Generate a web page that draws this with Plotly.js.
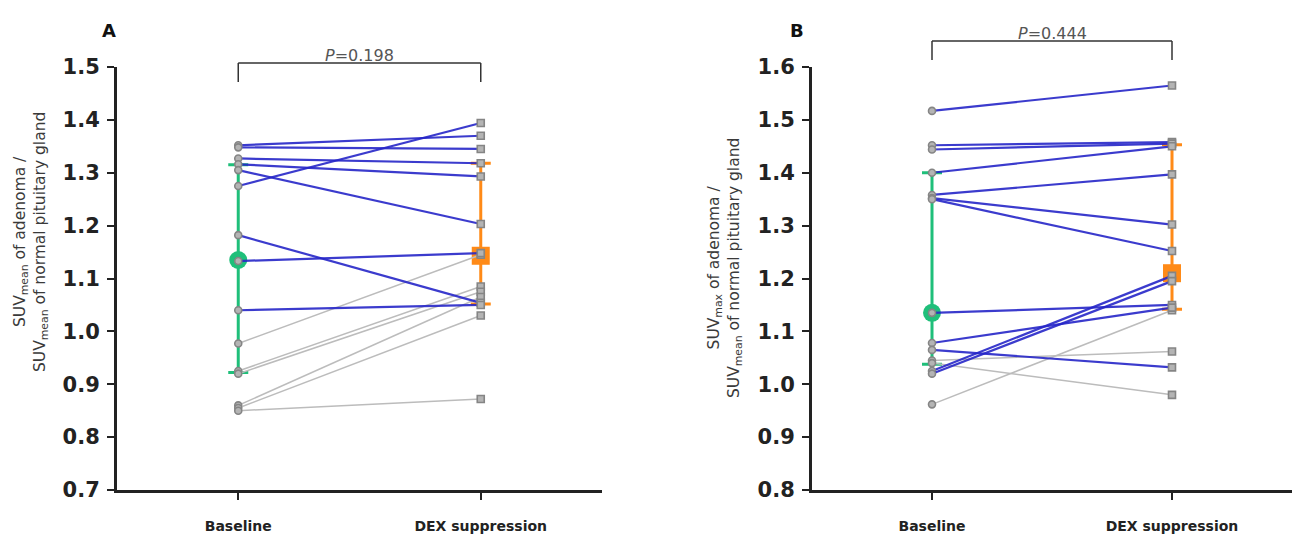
<!DOCTYPE html>
<html>
<head>
<meta charset="utf-8">
<script src="https://cdn.plot.ly/plotly-3.0.1.min.js"></script>
<style>
html,body{margin:0;padding:0;background:#fff;}
#chart{width:1293px;height:543px;}
</style>
</head>
<body>
<div id="chart"></div>
<script>
// ---- Data ----
const categories = ['Baseline', 'DEX suppression'];

// Panel A: SUVmean ratio
const baselineA = [1.352, 1.348, 1.327, 1.316, 1.305, 1.275, 1.182, 1.133, 1.040, 0.977, 0.925, 0.920, 0.860, 0.855, 0.850];
const dexA      = [1.370, 1.345, 1.318, 1.293, 1.203, 1.394, 1.054, 1.148, 1.050, 1.145, 1.085, 1.075, 1.065, 1.030, 0.872];
const groupA    = [1, 1, 1, 1, 1, 1, 1, 1, 1, 0, 0, 0, 0, 0, 0];
const summaryA_center = [1.135, 1.143];
const summaryA_upper  = [1.315, 1.318];
const summaryA_lower  = [0.922, 1.052];
const pValueA = '0.198';

// Panel B: SUVmax ratio
const baselineB = [1.517, 1.452, 1.444, 1.400, 1.358, 1.352, 1.350, 1.135, 1.078, 1.065, 1.025, 1.020, 1.045, 1.040, 0.962];
const dexB      = [1.565, 1.458, 1.455, 1.450, 1.397, 1.302, 1.252, 1.150, 1.145, 1.032, 1.205, 1.195, 1.062, 0.980, 1.140];
const groupB    = [1, 1, 1, 1, 1, 1, 1, 1, 1, 1, 1, 1, 0, 0, 0];
const summaryB_center = [1.135, 1.210];
const summaryB_upper  = [1.400, 1.453];
const summaryB_lower  = [1.038, 1.142];
const pValueB = '0.444';

const yTicksA = [0.7, 0.8, 0.9, 1.0, 1.1, 1.2, 1.3, 1.4, 1.5];
const yTicksB = [0.8, 0.9, 1.0, 1.1, 1.2, 1.3, 1.4, 1.5, 1.6];

// ---- Styles ----
const W = 1293, H = 543;
const BLUE = 'rgba(38,38,200,0.9)';
const GREYLINE = 'rgb(188,188,188)';
const GREEN = '#1fbf7a';
const ORANGE = '#ff8a17';
const AXC = '#222';
const FONT = 'DejaVu Sans, Arial, sans-serif';

function summaryTraces(center, upper, lower, xa, ya) {
  const traces = [];
  const cols = [GREEN, ORANGE];
  const syms = ['circle', 'square'];
  for (let k = 0; k < 2; k++) {
    traces.push({
      type: 'scatter', mode: 'markers', xaxis: xa, yaxis: ya,
      x: [categories[k]], y: [center[k]],
      marker: {symbol: syms[k], size: 18, color: cols[k], line: {width: 0}},
      error_y: {type: 'data', symmetric: false,
        array: [upper[k] - center[k]], arrayminus: [center[k] - lower[k]],
        color: cols[k], thickness: 3, width: 10},
      showlegend: false, hoverinfo: 'skip'
    });
  }
  return traces;
}

function subjectTraces(base, dex, group, xa, ya) {
  const grey = [], blue = [];
  for (let i = 0; i < base.length; i++) {
    const t = {
      type: 'scatter', mode: 'lines+markers', xaxis: xa, yaxis: ya,
      x: categories, y: [base[i], dex[i]],
      line: {color: group[i] ? BLUE : GREYLINE, width: group[i] ? 2.2 : 1.5},
      marker: {symbol: ['circle', 'square'], size: 7, color: '#b4b4b4',
               line: {color: '#858585', width: 1.6}},
      showlegend: false
    };
    (group[i] ? blue : grey).push(t);
  }
  return grey.concat(blue);
}

const data = [].concat(
  summaryTraces(summaryA_center, summaryA_upper, summaryA_lower, 'x', 'y'),
  subjectTraces(baselineA, dexA, groupA, 'x', 'y'),
  summaryTraces(summaryB_center, summaryB_upper, summaryB_lower, 'x2', 'y2'),
  subjectTraces(baselineB, dexB, groupB, 'x2', 'y2')
);

const plotTop = 67, plotBot = 490;
const pxToPaperY = (py) => (plotBot - py) / (plotBot - plotTop);

function xAxis(d0, d1) {
  return {
    domain: [d0 / W, d1 / W], type: 'category', categoryorder: 'array', categoryarray: categories,
    range: [-0.5, 1.5], showline: true, linewidth: 3, linecolor: AXC,
    ticks: 'outside', ticklen: 7, tickwidth: 2, tickcolor: AXC,
    tickfont: {family: FONT, size: 14, color: AXC, weight: 'bold'},
    ticklabelstandoff: 14,
    showgrid: false, zeroline: false, fixedrange: true
  };
}
function yAxis(range, ticks, anchor) {
  return {
    domain: [0, 1], range: range, tickvals: ticks, ticktext: ticks.map(v => v.toFixed(1)),
    showline: true, linewidth: 3, linecolor: AXC, anchor: anchor,
    ticks: 'outside', ticklen: 7, tickwidth: 2, tickcolor: AXC,
    tickfont: {family: FONT, size: 21, color: AXC, weight: 'bold'},
    ticklabelstandoff: 3,
    showgrid: false, zeroline: false, fixedrange: true
  };
}

function bracket(xref, yTopPx, yLegPx) {
  const ln = {color: '#333', width: 1.5};
  const yt = pxToPaperY(yTopPx), yl = pxToPaperY(yLegPx);
  return [
    {type: 'line', xref: xref, yref: 'paper', x0: 0, x1: 1, y0: yt, y1: yt, line: ln},
    {type: 'line', xref: xref, yref: 'paper', x0: 0, x1: 0, y0: yt, y1: yl, line: ln},
    {type: 'line', xref: xref, yref: 'paper', x0: 1, x1: 1, y0: yt, y1: yl, line: ln}
  ];
}

const titleFont = {family: FONT, size: 15.5, color: '#3a3a3a'};

const layout = {
  width: W, height: H,
  margin: {l: 0, r: 0, t: plotTop, b: H - plotBot, pad: 0},
  paper_bgcolor: '#fff', plot_bgcolor: '#fff',
  showlegend: false,
  xaxis: xAxis(117, 602),
  yaxis: yAxis([0.7, 1.5], yTicksA, 'x'),
  xaxis2: xAxis(812, 1292),
  yaxis2: yAxis([0.8, 1.6], yTicksB, 'x2'),
  shapes: [].concat(bracket('x', 63, 82), bracket('x2', 41, 60)),
  annotations: [
    {text: '<b>A</b>', xref: 'paper', yref: 'paper', x: 100 / W, y: pxToPaperY(18),
     showarrow: false, font: {family: FONT, size: 18, color: '#111'}},
    {text: '<b>B</b>', xref: 'paper', yref: 'paper', x: 797 / W, y: pxToPaperY(18),
     showarrow: false, font: {family: FONT, size: 18, color: '#111'}},
    {text: '<i>P</i>=' + pValueA, xref: 'x', yref: 'paper', x: 0.5, y: pxToPaperY(44),
     showarrow: false, font: {family: FONT, size: 16, color: '#555'}},
    {text: '<i>P</i>=' + pValueB, xref: 'x2', yref: 'paper', x: 0.5, y: pxToPaperY(22),
     showarrow: false, font: {family: FONT, size: 16, color: '#555'}},
    {text: 'SUV<sub>mean</sub> of adenoma /<br>SUV<sub>mean</sub> of normal pituitary gland',
     xref: 'paper', yref: 'paper', x: 31 / W, y: pxToPaperY(242), textangle: -90,
     xanchor: 'center', yanchor: 'middle', showarrow: false, font: titleFont},
    {text: 'SUV<sub>max</sub> of adenoma /<br>SUV<sub>mean</sub> of normal pituitary gland',
     xref: 'paper', yref: 'paper', x: 725 / W, y: pxToPaperY(268), textangle: -90,
     xanchor: 'center', yanchor: 'middle', showarrow: false, font: titleFont}
  ]
};

Plotly.newPlot('chart', data, layout, {displayModeBar: false, staticPlot: true});
</script>
</body>
</html>
